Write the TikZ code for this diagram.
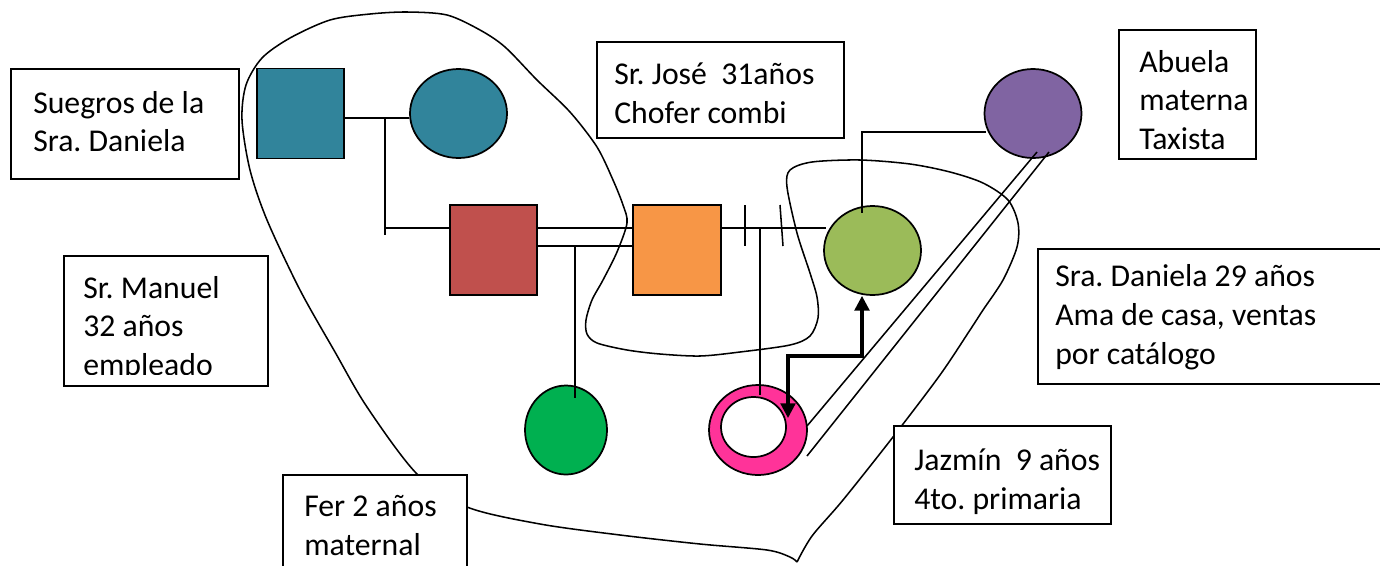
\documentclass[tikz,border=0pt]{standalone}
\usepackage{fontspec}
\setmainfont{Carlito}
\usetikzlibrary{shapes.geometric,arrows.meta}
\definecolor{cteal}{HTML}{31849B}
\definecolor{cred}{HTML}{C0504D}
\definecolor{corange}{HTML}{F79646}
\definecolor{clgreen}{HTML}{9BBB59}
\definecolor{cpurple}{HTML}{8064A2}
\definecolor{cgreen}{HTML}{00B050}
\definecolor{cpink}{HTML}{FF3399}
\newcommand{\lblfont}{\fontsize{23.8pt}{29pt}\selectfont\frenchspacing}
\begin{document}
\begin{tikzpicture}[x=0.75pt,y=-0.75pt,
  line/.style={line width=1.15pt},
  sqbox/.style={draw, line width=1.3pt, rectangle, inner sep=0pt, minimum width=65.25pt, minimum height=67.5pt},
  elbox/.style={draw, line width=1.3pt, ellipse, inner sep=0pt, minimum width=72.75pt, minimum height=66.75pt},
  lbox/.style={draw, line width=1.3pt, fill=white, rectangle, inner sep=0pt, anchor=north west},
  lbl/.style={anchor=north west, inner sep=0pt, align=left, font=\lblfont, execute at begin node={\rule{0pt}{20pt}}},
  arr/.style={line width=2.3pt, {Triangle[length=11pt,width=11pt]}-{Triangle[length=11pt,width=11pt]}}]
\useasboundingbox (0,0) rectangle (1380,565);
\clip (0,0) rectangle (1380,565);
\fill[white] (0,0) rectangle (1380,565);

% household boundary
\draw[line] plot[smooth, tension=0.5] coordinates {
 (797,562) (812,536) (843,500) (893,437) (940,375) (970,330) (983,310) (1003,280)
 (1017,247) (1018,223) (1008,200) (983,183) (950,172) (910,164) (860,160) (812,162)
 (790,170) (787,187) (797,233) (810,273) (817,297) (818,318) (810,336) (790,345)
 (740,352) (700,356) (660,354) (627,350) (597,343) (587,334) (586,320) (592,300)
 (603,280) (617,252) (627,223) (623,205) (613,180) (597,147) (570,112) (537,80)
 (505,47) (480,30) (447,15) (407,12) (370,14) (330,20) (290,38) (262,58) (246,85)
 (242,120) (250,170) (267,220) (300,290) (335,352) (367,407) (417,474) (467,507)
 (540,524) (620,535) (700,544) (767,550) (790,557) (797,562)};

% persons
\node[sqbox, fill=cteal] (sq1) at (300.5,113.5) {};
\node[elbox, fill=cteal] (c1) at (458.5,113.5) {};
\node[sqbox, fill=cred] (sq2) at (493.5,250) {};
\node[sqbox, fill=corange, minimum width=66pt] (sq3) at (677,250) {};
\node[elbox, fill=clgreen] (c2) at (872.5,250.5) {};
\node[elbox, fill=cpurple] (c3) at (1033,113.5) {};
\node[elbox, fill=cgreen, minimum width=61.5pt] (c4) at (566,430) {};
\node[elbox, fill=cpink, minimum width=73.5pt, minimum height=67.5pt] (c5) at (758,430) {};
\node[elbox, fill=white, minimum width=48.75pt, minimum height=45pt] (c5in) at (753.5,427) {};

% connectors
\coordinate (m1) at (385,118);
\coordinate (m1b) at (385,235);
\coordinate (r1) at (385,228);
\coordinate (r2) at (575,246);
\coordinate (dE) at (826,228);
\draw[line] (sq1.east |- m1) -- (c1.west |- m1);
\draw[line] (m1) -- (m1b);
\draw[line] (r1) -- (sq2.west |- r1);
\draw[line] (sq2.east |- r1) -- (sq3.west |- r1);
\draw[line] (sq2.east |- r2) -- (sq3.west |- r2);
\draw[line] (sq3.east |- r1) -- (dE);
\coordinate (t1a) at (745,205); \coordinate (t1b) at (745,246);
\coordinate (t2a) at (780,205); \coordinate (t2b) at (783,246);
\draw[line] (t1a) -- (t1b);
\draw[line] (t2a) -- (t2b);
\coordinate (f2) at (575,398);
\draw[line] (r2) -- (f2);
\coordinate (j1) at (760,228); \coordinate (j2) at (760,395);
\draw[line] (j1) -- (j2);
\coordinate (g1) at (986,132); \coordinate (g2) at (862,132); \coordinate (g3) at (862,213);
\draw[line] (g1) -- (g2) -- (g3);
\coordinate (p1) at (1037,152); \coordinate (p2) at (807,426);
\coordinate (p3) at (1049,152); \coordinate (p4) at (807,456);
\draw[line] (p1) -- (p2);
\draw[line] (p3) -- (p4);
\coordinate (a1) at (862,356); \coordinate (a2) at (788,356); \coordinate (a3) at (788,418);
\draw[arr] ([xshift=-7.875pt]c2.south) -- (a1) -- (a2) -- (a3);

% label boxes
\node[lbox, minimum width=171pt, minimum height=82.5pt] (bSue) at (10,68) {};
\node[lbl] (tSue) at (33,91) {Suegros de la\\Sra. Daniela};
\node[lbox, minimum width=185.25pt, minimum height=72pt] (bJose) at (596,41) {};
\node[lbl] (tJose) at (614,63) {Sr. José\ \ 31años\\Chofer combi};
\node[lbox, minimum width=102.75pt, minimum height=96.75pt] (bAbu) at (1118,29) {};
\node[lbl] (tAbu) at (1139,50) {Abuela\\materna\\Taxista};
\node[lbox, minimum width=264.75pt, minimum height=101.25pt] (bDan) at (1037,248) {};
\node[lbl] (tDan) at (1055,264.5) {Sra. Daniela 29 años\\Ama de casa, ventas\\por catálogo};
\node[lbox, minimum width=153pt, minimum height=97.5pt] (bMan) at (63,255) {};
\begin{scope}
\clip (63,255) rectangle (267,374);
\node[lbl] (tMan) at (83,276) {Sr. Manuel\\32 años\\empleado};
\end{scope}
\node[lbox, minimum width=138pt, minimum height=79.5pt] (bFer) at (282,474) {};
\node[lbl] (tFer) at (304,495) {Fer 2 años\\maternal};
\node[lbox, minimum width=162.75pt, minimum height=73.5pt] (bJaz) at (893,425) {};
\node[lbl] (tJaz) at (914,449) {Jazmín\ \ 9 años\\4to. primaria};
\end{tikzpicture}
\end{document}
